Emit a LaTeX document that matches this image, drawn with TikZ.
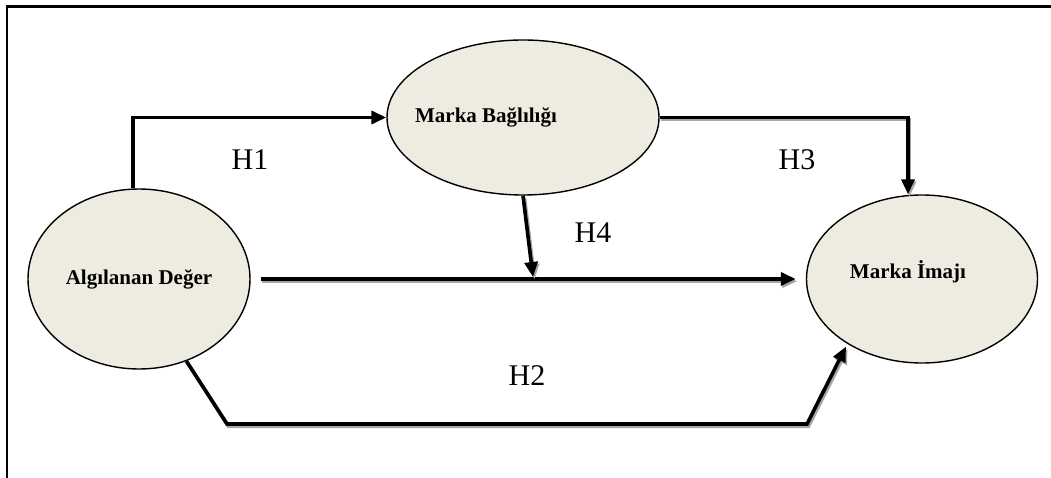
\documentclass[tikz,border=0pt]{standalone}
\usepackage{fontspec}
\setmainfont{Liberation Serif}
\usetikzlibrary{arrows.meta,shapes.geometric}
\definecolor{ovalfill}{HTML}{EEECE1}
\tikzset{
  oval/.style={ellipse, draw=black, line width=1.4pt, fill=ovalfill, inner sep=0pt},
  ovaltext/.style={font=\fontsize{21}{25}\selectfont\bfseries},
  hyp/.style={font=\fontsize{30}{36}\selectfont},
  tip/.style={-{Triangle[length=15pt,width=13pt]}},
  conn/.style={line width=3.6pt, tip},
  shadowed/.style={preaction={draw=black!35, line width=3.6pt, tip,
      transform canvas={shift={(1.5pt,-2.2pt)}}}},
}
\begin{document}
\begin{tikzpicture}[x=1pt,y=-1pt]
  \useasboundingbox (0,0) rectangle (1051,478);
  % frame
  \draw[line width=2.8pt, line join=miter] (7,478) -- (7,6.5) -- (1051,6.5);

  % constructs
  \node[oval, minimum width=222pt, minimum height=180pt] (ad) at (139,279)
    {\textbf{\fontsize{21}{25}\selectfont Algılanan Değer}};
  \node[oval, minimum width=272pt, minimum height=155pt] (mb) at (523,117.5)
    {};
  \node[ovaltext] (mbt) at (486,117) {Marka Bağlılığı};
  \node[oval, minimum width=231pt, minimum height=168pt] (mi) at (922,279)
    {};
  \node[ovaltext] (mit) at (908,272) {Marka İmajı};

  % bend points
  \coordinate (j) at (533,277);
  \coordinate (h2a) at (227,424);
  \coordinate (h2b) at (807,424);

  % paths
  \draw[conn] ([xshift=-6pt]ad.north) |- (mb.west);
  \draw[conn, shadowed] (mb.east) -| ([xshift=-14pt]mi.north);
  \draw[conn, shadowed, shorten <=10pt, shorten >=10pt] (ad.east) -- (mi.west);
  \draw[conn, shadowed] (mb.south) -- (j);
  \draw[conn, shadowed, shorten >=3pt] (ad.-60) -- (h2a) -- (h2b) -- (mi.221);

  % hypothesis labels
  \node[hyp] (l1) at (250,160) {H1};
  \node[hyp] (l3) at (797,160) {H3};
  \node[hyp] (l4) at (593,233) {H4};
  \node[hyp] (l2) at (527,376) {H2};
\end{tikzpicture}
\end{document}
